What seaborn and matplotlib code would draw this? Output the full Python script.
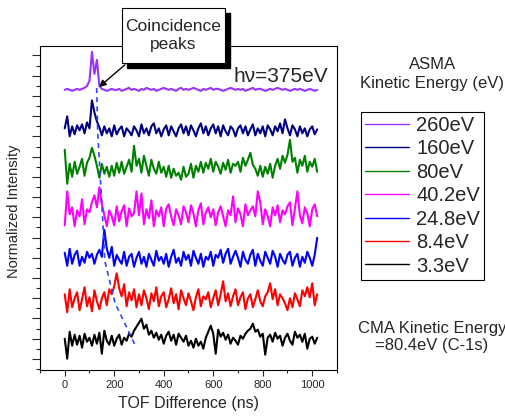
import numpy as np
import pandas as pd
import matplotlib
matplotlib.use("Agg")
import matplotlib.pyplot as plt
from matplotlib.patches import Rectangle
from matplotlib.ticker import MultipleLocator, NullFormatter
import seaborn as sns

# === data ===
# TOF bins, 10 ns apart, 0..1020 ns
tof_ns = np.arange(0, 1021, 10)

ENERGY_LABELS = ["260eV", "160eV", "80eV", "40.2eV", "24.8eV", "8.4eV", "3.3eV"]
COLORS = ["#9933FF", "#000080", "#008000", "#FF00FF", "#0000FF", "#FF0000", "#000000"]
# vertical offset of each trace (stacked plot)
OFFSETS = [13.3, 11.25, 9.35, 7.0, 4.85, 2.8, 0.85]
SCALE = 20.25  # counts per offset unit

sig_260 = [0, 1, 0, -1, 0, 1, 0, 1, 2, 4,
           9, 38, 16, 30, 4, 1, 0, -1, 0, 1,
           0, 0, 1, -1, 0, 1, 2, 0, 1, 0,
           -1, 1, 0, 2, 1, 0, 1, -1, 0, 1,
           2, 1, 0, 1, 0, -1, 1, 2, 0, 1,
           0, 1, 2, 1, 0, -1, 1, 0, 1, 2,
           0, 1, 1, 0, -1, 0, 1, 2, 1, 0,
           1, 0, 1, -1, 0, 1, 2, 0, 1, 1,
           0, -1, 0, 1, 0, 1, 2, 1, 0, 1,
           0, -1, 0, 1, 0, 1, 0, -1, 0, 1,
           0, -1, 0]
sig_160 = [3, 15, -5, 5, -3, 6, 1, 7, -2, 9,
           3, 31, 19, 10, 4, -4, 5, -2, 3, -5,
           6, -3, 2, 5, -5, 3, 0, -4, 5, 1,
           -5, 7, -2, 3, -4, 5, 8, -2, 3, -5,
           2, 6, -4, 5, 0, -5, 3, 7, -2, 5,
           -4, 6, 1, -5, 3, 8, -2, 5, -4, 3,
           7, -2, 5, -5, 6, 0, -4, 5, 2, -5,
           3, 6, -2, 5, -4, 2, 7, -4, 3, -2,
           5, -5, 6, 2, -4, 5, 0, 8, -2, 12,
           3, -4, 6, 2, -5, 5, -2, 3, -5, 2,
           5, -3, 2]
sig_80 = [20, -14, 6, -7, 8, -4, 3, 11, -6, 7,
          12, 22, 14, 4, -8, 6, -4, 3, -7, 4,
          -6, 7, -3, 8, -4, 3, 10, -2, 24, 4,
          11, -3, 14, 4, -6, 10, 1, -4, 8, -3,
          3, -7, 4, -8, 1, -6, -3, -10, 3, -7,
          -4, 6, -8, 4, -2, 8, -3, 7, 1, 11,
          -2, 8, 3, -4, 7, 0, 10, -3, 6, 4,
          8, -2, 12, 4, 10, 17, 5, 1, -6, 4,
          -7, 3, -4, 6, -8, 4, 11, 1, 14, 7,
          15, 30, 8, 12, -3, 10, 4, 14, -2, 8,
          3, 11, -2]
sig_40 = [-8, 26, 3, 10, -9, 7, 1, 18, -7, 8,
          5, 15, 22, 10, 30, 13, 2, -9, 7, 1,
          -8, 11, -4, 6, 12, -9, 9, 1, 4, 26,
          2, 24, -7, 8, -1, 17, -9, 7, 1, 10,
          -9, 9, 13, 1, -8, 8, 2, -7, 11, 5,
          -5, 12, 4, -9, 7, 14, -7, 5, 10, 0,
          8, -8, 5, 11, 1, -9, 7, 2, 21, -5,
          9, 3, -9, 13, 2, 7, 11, 1, 26, 15,
          -7, 8, 1, -9, 10, 2, 12, -5, 7, 3,
          11, 15, -8, 9, 26, 2, -6, 10, 4, -9,
          8, 13, 1]
sig_24 = [8, -5, 12, -3, 6, 10, -5, 4, -2, 9,
          3, 7, -3, 6, 11, 4, 31, 12, 3, 14,
          -5, 6, 1, -3, 9, -5, 4, 7, -6, 3,
          9, -3, 4, -6, 7, 1, -5, 10, 0, 4,
          -3, 7, -6, 4, 11, -2, 3, -5, 9, 1,
          6, -5, 10, 3, -3, 7, -6, 4, 1, 9,
          -5, 6, 3, 11, -2, 7, 12, -3, 4, 10,
          3, -6, 9, 1, -3, 6, 11, -5, 7, 0,
          -5, 9, 3, -3, 10, 4, -6, 7, 1, -3,
          6, 9, -5, 3, 7, -6, 4, -2, 9, 3,
          -5, 6, 23]
sig_8 = [8, -10, 13, -5, 4, 10, -8, 3, 15, -4,
         5, -9, 12, 1, -7, 4, 10, -3, 13, 8,
         16, 29, 14, 6, 18, -4, 10, 2, 13, -5,
         8, -3, 12, 4, -7, 9, 1, 15, -4, 6,
         10, -5, 3, 14, -1, 8, -7, 12, 4, -3,
         9, 1, -8, 5, 13, -4, 6, 3, 10, -5,
         4, 12, -3, 8, 21, 1, 9, -4, 6, 13,
         -3, 5, 10, -7, 4, 8, -5, 3, 12, 1,
         -4, 6, 10, 19, 3, 13, -3, 8, 4, -1,
         -8, 4, -5, 9, 3, -4, 12, 6, 15, 5,
         19, -3, 8]
sig_3 = [3, -17, 10, -4, 7, -3, 6, -6, 8, 0,
         4, -4, 7, -2, 9, -12, 11, 1, -3, 6,
         -4, 3, 7, -3, 4, 1, 8, 5, 11, 15,
         19, 23, 13, 17, 7, 11, 4, 9, 2, 7,
         -2, 6, 10, 1, 7, -3, 8, 4, 0, 6,
         -4, 1, -6, 3, -4, 0, -7, 4, 10, 16,
         8, -12, 12, 5, 9, 2, 7, -2, 4, 1,
         -3, 6, 3, 8, 11, 13, 18, 10, 12, 5,
         8, -13, 4, 7, 0, 9, 3, 6, -4, 4,
         8, 1, -3, 10, 4, 7, 0, 8, -7, 3,
         5, -2, 4]
SIGNALS = [sig_260, sig_160, sig_80, sig_40, sig_24, sig_8, sig_3]

# guide line through the coincidence peaks
peak_tof = [129, 133, 142, 153, 162, 203, 284]
peak_pos = [13.39, 11.26, 9.34, 7.0, 4.84, 2.77, 0.69]


def draw_tof_spectra():
    frames = []
    for lab, off, sig in zip(ENERGY_LABELS, OFFSETS, SIGNALS):
        frames.append(pd.DataFrame({
            "tof": tof_ns,
            "intensity": off + np.array(sig) / SCALE,
            "energy": lab,
        }))
    df = pd.concat(frames, ignore_index=True)

    sns.set_style("ticks")
    plt.rcParams['font.family'] = ['Liberation Sans', 'DejaVu Sans']

    fig = plt.figure(figsize=(5.06, 4.16), dpi=100)
    ax = fig.add_axes([0.079, 0.111, 0.587, 0.778])

    sns.lineplot(data=df, x="tof", y="intensity", hue="energy",
                 hue_order=ENERGY_LABELS, palette=dict(zip(ENERGY_LABELS, COLORS)),
                 estimator=None, sort=False, lw=1.5, ax=ax)
    ax.plot(peak_tof, peak_pos, ls=(0, (3, 2.5)), color="#3344FF", lw=1.2)

    ax.set_xlim(-100, 1100)
    ax.set_ylim(-0.54, 15.46)
    ax.xaxis.set_major_locator(MultipleLocator(200))
    ax.xaxis.set_minor_locator(MultipleLocator(100))
    ax.yaxis.set_major_locator(MultipleLocator(1))
    ax.yaxis.set_minor_locator(MultipleLocator(0.5))
    ax.yaxis.set_major_formatter(NullFormatter())
    ax.tick_params(axis='y', which='major', length=6, width=0.8, direction='out')
    ax.tick_params(axis='y', which='minor', length=3, width=0.8, direction='out')
    ax.tick_params(axis='x', which='major', length=4, width=0.8, labelsize=8, pad=3)
    ax.tick_params(axis='x', which='minor', length=2.5, width=0.8)
    for sp in ax.spines.values():
        sp.set_visible(True)
        sp.set_color("black")
        sp.set_linewidth(0.8)

    ax.set_xlabel("TOF Difference (ns)", fontsize=11.5, labelpad=5)
    ax.set_ylabel("Normalized Intensity", fontsize=10.5)
    ax.yaxis.set_label_coords(-0.065, 0.49)

    ax.text(0.97, 0.889, "h\u03bd=375eV", transform=ax.transAxes,
            ha="right", va="baseline", fontsize=15)

    # legend on the right, outside the axes
    handles, labels = ax.get_legend_handles_labels()
    ax.get_legend().remove()
    leg = fig.legend(handles[:7], labels[:7], loc="upper left",
                     bbox_to_anchor=(0.713, 0.731), fontsize=14.5, frameon=True,
                     fancybox=False, edgecolor="black", framealpha=1,
                     handlelength=2.2, labelspacing=0.22, borderpad=0.2,
                     handletextpad=0.35, borderaxespad=0)
    leg.get_frame().set_linewidth(0.8)
    for ln in leg.get_lines():
        ln.set_linewidth(1.0)

    fig.text(0.854, 1 - 74 / 416, "ASMA\nKinetic Energy (eV)", ha="center",
             va="center", fontsize=12, linespacing=1.3)
    fig.text(0.854, 1 - 337 / 416, "CMA Kinetic Energy\n=80.4eV (C-1s)",
             ha="center", va="center", fontsize=12, linespacing=1.15)

    # callout box with drop shadow
    bx0, bx1 = 122 / 506, 225 / 506
    by0, by1 = 1 - 63 / 416, 1 - 8 / 416
    fig.patches.append(Rectangle((bx0 + 5 / 506, by0 - 5 / 416), bx1 - bx0, by1 - by0,
                                 transform=fig.transFigure, facecolor="black",
                                 edgecolor="black", zorder=2))
    fig.patches.append(Rectangle((bx0, by0), bx1 - bx0, by1 - by0,
                                 transform=fig.transFigure, facecolor="white",
                                 edgecolor="black", lw=0.8, zorder=2.5))
    fig.text((bx0 + bx1) / 2, (by0 + by1) / 2, "Coincidence\npeaks", ha="center",
             va="center", fontsize=12.5, linespacing=1.3, zorder=3)
    ax.annotate("", xy=(130, 13.35), xycoords="data",
                xytext=(127 / 506, by0), textcoords="figure fraction",
                arrowprops=dict(arrowstyle="-|>", color="black", lw=1,
                                mutation_scale=10), annotation_clip=False)

    fig.savefig("out.png", dpi=100)


if __name__ == "__main__":
    draw_tof_spectra()
